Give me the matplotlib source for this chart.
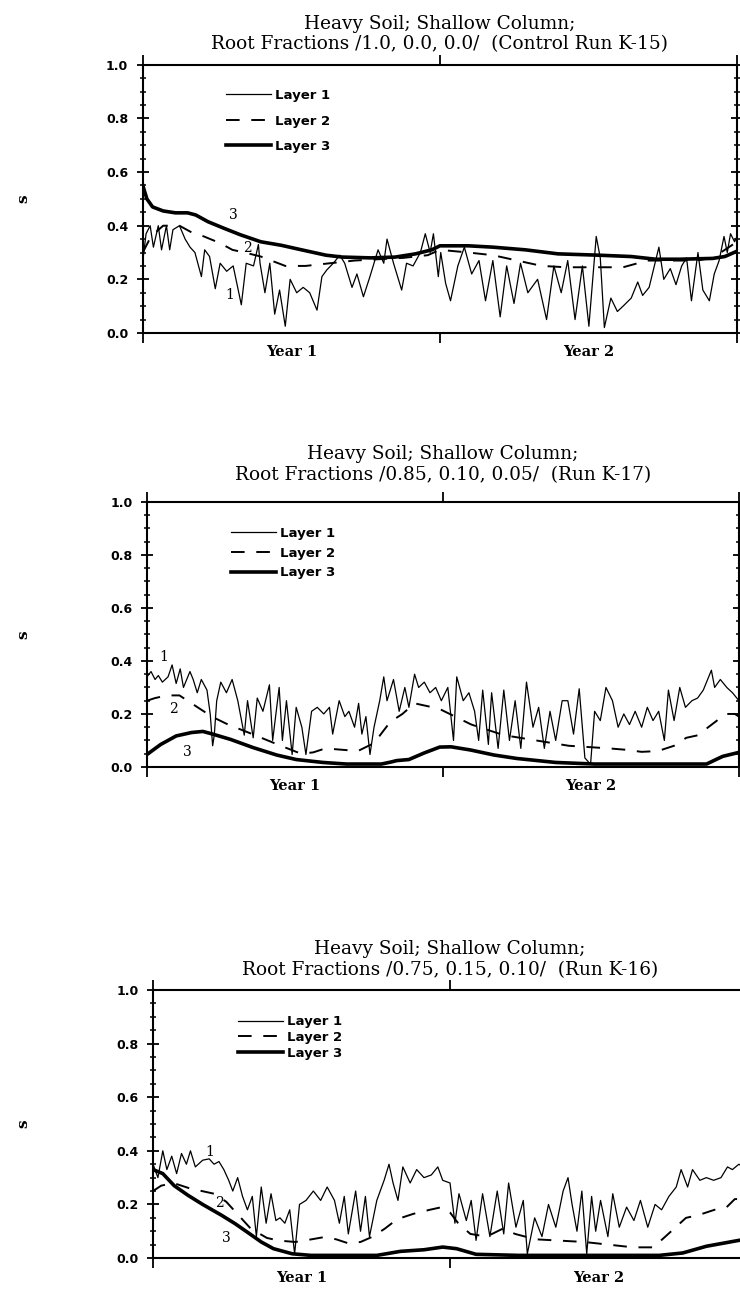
import numpy as np
import matplotlib
matplotlib.use("Agg")
import matplotlib.pyplot as plt

# ---- Run K-15 (control) ----
k15_l1_day = [0, 4, 9, 13, 19, 23, 29, 33, 37, 45, 52, 58, 64, 72, 76, 82, 89, 95, 103, 111,
              121, 127, 136, 142, 144, 150, 156, 162, 168, 175, 181, 189, 197, 205, 214, 220,
              226, 234, 242, 248, 257, 263, 271, 279, 289, 296, 300, 308, 318, 324, 332, 341,
              347, 353, 357, 363, 366, 372, 378, 387, 395, 404, 413, 421, 430, 439, 447, 456,
              464, 473, 485, 496, 505, 514, 522, 531, 540, 548, 557, 562, 567, 575, 583, 590,
              600, 608, 614, 622, 630, 634, 640, 648, 655, 662, 668, 674, 682, 688, 696, 702,
              708, 714, 718, 722, 727, 730]
k15_l1 = [0.27, 0.37, 0.40, 0.32, 0.40, 0.31, 0.40, 0.31, 0.385, 0.40, 0.35, 0.32, 0.30, 0.21,
          0.31, 0.285, 0.165, 0.26, 0.23, 0.25, 0.105, 0.26, 0.25, 0.33, 0.26, 0.15, 0.26, 0.07,
          0.16, 0.025, 0.20, 0.15, 0.17, 0.15, 0.085, 0.21, 0.235, 0.26, 0.29, 0.26, 0.17, 0.22,
          0.135, 0.21, 0.31, 0.26, 0.35, 0.26, 0.16, 0.26, 0.25, 0.30, 0.37, 0.30, 0.37, 0.21,
          0.30, 0.185, 0.12, 0.25, 0.32, 0.22, 0.27, 0.12, 0.27, 0.06, 0.25, 0.11, 0.26, 0.15,
          0.20, 0.05, 0.25, 0.15, 0.27, 0.05, 0.25, 0.025, 0.36, 0.28, 0.02, 0.13, 0.08, 0.10,
          0.13, 0.19, 0.14, 0.17, 0.27, 0.32, 0.20, 0.24, 0.18, 0.25, 0.28, 0.12, 0.30, 0.16,
          0.12, 0.22, 0.27, 0.36, 0.30, 0.37, 0.34, 0.36]
k15_l2_day = [0, 10, 25, 45, 60, 75, 95, 110, 125, 145, 175, 200, 230, 260, 290, 320, 350, 365,
              400, 430, 460, 490, 520, 560, 590, 620, 650, 680, 700, 715, 730]
k15_l2 = [0.30, 0.36, 0.40, 0.40, 0.375, 0.36, 0.335, 0.31, 0.30, 0.285, 0.25, 0.25, 0.26, 0.27,
          0.275, 0.28, 0.29, 0.31, 0.30, 0.29, 0.27, 0.25, 0.245, 0.245, 0.245, 0.27, 0.27, 0.27,
          0.28, 0.31, 0.34]
k15_l3_day = [0, 5, 12, 25, 40, 55, 65, 80, 100, 120, 145, 170, 195, 225, 245, 280, 310, 335,
              355, 365, 400, 430, 470, 510, 560, 600, 630, 660, 700, 715, 730]
k15_l3 = [0.55, 0.50, 0.47, 0.455, 0.448, 0.448, 0.44, 0.415, 0.39, 0.366, 0.34, 0.327, 0.31,
          0.29, 0.283, 0.28, 0.283, 0.295, 0.31, 0.325, 0.325, 0.32, 0.31, 0.295, 0.29, 0.285,
          0.275, 0.275, 0.278, 0.285, 0.305]

# ---- Run K-17 ----
k17_l1_day = [0, 5, 10, 14, 19, 26, 31, 36, 41, 45, 53, 57, 62, 67, 74, 78, 81, 83, 86, 91, 98,
              105, 112, 120, 124, 131, 136, 143, 151, 155, 163, 167, 172, 179, 184, 191, 196,
              203, 210, 218, 225, 229, 237, 244, 249, 256, 261, 265, 270, 275, 280, 287, 292,
              296, 304, 311, 318, 323, 330, 335, 342, 349, 356, 363, 371, 378, 382, 390, 397,
              404, 409, 414, 421, 425, 433, 440, 447, 454, 461, 468, 476, 483, 490, 497, 504,
              512, 519, 526, 533, 540, 547, 552, 559, 566, 574, 581, 588, 595, 602, 610, 617,
              624, 631, 638, 643, 650, 657, 664, 672, 679, 686, 696, 700, 707, 715, 722, 730]
k17_l1 = [0.34, 0.36, 0.33, 0.345, 0.32, 0.34, 0.385, 0.315, 0.37, 0.30, 0.36, 0.33, 0.28, 0.33,
          0.29, 0.20, 0.08, 0.12, 0.25, 0.32, 0.28, 0.33, 0.25, 0.12, 0.25, 0.11, 0.26, 0.21,
          0.31, 0.10, 0.30, 0.10, 0.25, 0.047, 0.225, 0.15, 0.047, 0.21, 0.225, 0.20, 0.225,
          0.124, 0.25, 0.19, 0.21, 0.15, 0.24, 0.124, 0.19, 0.047, 0.15, 0.25, 0.34, 0.25, 0.33,
          0.21, 0.30, 0.225, 0.35, 0.30, 0.32, 0.28, 0.30, 0.25, 0.30, 0.10, 0.34, 0.25, 0.28,
          0.21, 0.10, 0.29, 0.085, 0.28, 0.07, 0.29, 0.10, 0.25, 0.07, 0.32, 0.15, 0.225, 0.07,
          0.21, 0.10, 0.25, 0.25, 0.124, 0.295, 0.034, 0.01, 0.21, 0.175, 0.30, 0.25, 0.15, 0.20,
          0.16, 0.21, 0.15, 0.225, 0.175, 0.21, 0.10, 0.29, 0.175, 0.30, 0.225, 0.25, 0.26, 0.29,
          0.365, 0.30, 0.33, 0.30, 0.28, 0.25]
k17_l2_day = [0, 10, 25, 40, 60, 80, 100, 125, 145, 165, 190, 205, 220, 240, 260, 280, 300, 315,
              330, 345, 360, 380, 400, 420, 440, 460, 480, 500, 520, 545, 570, 590, 610, 630, 650,
              665, 680, 690, 705, 715, 725, 730]
k17_l2 = [0.25, 0.26, 0.27, 0.27, 0.23, 0.19, 0.16, 0.13, 0.105, 0.08, 0.05, 0.055, 0.07, 0.065,
          0.06, 0.09, 0.17, 0.20, 0.24, 0.23, 0.22, 0.19, 0.16, 0.14, 0.12, 0.11, 0.10, 0.09,
          0.08, 0.075, 0.07, 0.065, 0.057, 0.06, 0.08, 0.11, 0.12, 0.145, 0.18, 0.20, 0.20, 0.19]
k17_l3_day = [0, 17, 36, 55, 69, 81, 103, 131, 160, 184, 217, 246, 289, 300, 308, 323, 342, 361,
              375, 399, 428, 456, 504, 552, 690, 710, 730]
k17_l3 = [0.047, 0.085, 0.117, 0.13, 0.134, 0.124, 0.104, 0.073, 0.045, 0.028, 0.017, 0.011,
          0.011, 0.018, 0.024, 0.028, 0.053, 0.075, 0.076, 0.064, 0.045, 0.032, 0.017, 0.011,
          0.011, 0.04, 0.055]

# ---- Run K-16 ----
k16_l1_day = [0, 6, 12, 17, 23, 29, 35, 41, 46, 52, 61, 69, 75, 81, 87, 93, 98, 104, 110, 116,
              122, 127, 133, 139, 145, 151, 156, 162, 168, 174, 180, 188, 197, 206, 214, 223,
              229, 235, 240, 249, 255, 261, 266, 275, 284, 290, 295, 301, 307, 316, 324, 333,
              342, 350, 356, 365, 371, 376, 385, 391, 397, 405, 414, 423, 431, 437, 446, 455,
              460, 469, 478, 486, 495, 504, 510, 515, 521, 527, 533, 539, 544, 550, 559, 565,
              573, 582, 591, 599, 608, 617, 625, 634, 643, 649, 657, 663, 672, 680, 689, 698,
              706, 712, 720, 730]
k16_l1 = [0.35, 0.30, 0.40, 0.33, 0.38, 0.315, 0.39, 0.35, 0.40, 0.34, 0.365, 0.37, 0.35, 0.36,
          0.33, 0.29, 0.25, 0.30, 0.23, 0.18, 0.23, 0.08, 0.265, 0.13, 0.24, 0.14, 0.15, 0.13,
          0.18, 0.016, 0.20, 0.215, 0.25, 0.215, 0.265, 0.215, 0.13, 0.23, 0.09, 0.25, 0.10,
          0.23, 0.08, 0.215, 0.29, 0.35, 0.28, 0.215, 0.34, 0.28, 0.33, 0.30, 0.31, 0.34, 0.29,
          0.28, 0.13, 0.24, 0.14, 0.215, 0.066, 0.24, 0.08, 0.25, 0.09, 0.28, 0.115, 0.215,
          0.016, 0.15, 0.08, 0.20, 0.115, 0.25, 0.30, 0.20, 0.10, 0.25, 0.016, 0.23, 0.10,
          0.215, 0.08, 0.24, 0.115, 0.19, 0.14, 0.215, 0.115, 0.20, 0.18, 0.23, 0.265, 0.33,
          0.265, 0.33, 0.29, 0.30, 0.29, 0.30, 0.34, 0.33, 0.35, 0.33]
k16_l2_day = [0, 10, 25, 45, 60, 75, 90, 105, 120, 140, 155, 175, 195, 210, 225, 240, 255, 270,
              285, 300, 320, 340, 355, 365, 375, 390, 410, 430, 445, 470, 500, 530, 560, 590,
              615, 635, 655, 670, 690, 705, 715, 730]
k16_l2 = [0.25, 0.27, 0.28, 0.26, 0.25, 0.24, 0.21, 0.16, 0.11, 0.075, 0.065, 0.06, 0.07, 0.078,
          0.07, 0.055, 0.06, 0.08, 0.11, 0.145, 0.165, 0.18, 0.19, 0.17, 0.13, 0.09, 0.08, 0.11,
          0.09, 0.07, 0.065, 0.06, 0.05, 0.04, 0.04, 0.095, 0.15, 0.16, 0.18, 0.19, 0.22, 0.22]
k16_l3_day = [0, 12, 26, 43, 61, 84, 101, 119, 133, 148, 171, 194, 275, 304, 333, 356, 373, 397,
              449, 622, 651, 680, 720, 730]
k16_l3 = [0.33, 0.315, 0.27, 0.234, 0.20, 0.16, 0.128, 0.09, 0.06, 0.035, 0.016, 0.01, 0.01,
          0.025, 0.031, 0.041, 0.035, 0.014, 0.01, 0.01, 0.019, 0.044, 0.066, 0.07]

titles = ["Heavy Soil; Shallow Column;\nRoot Fractions /1.0, 0.0, 0.0/  (Control Run K-15)",
          "Heavy Soil; Shallow Column;\nRoot Fractions /0.85, 0.10, 0.05/  (Run K-17)",
          "Heavy Soil; Shallow Column;\nRoot Fractions /0.75, 0.15, 0.10/  (Run K-16)"]
year_labels = ["Year 1", "Year 2"]
layer_names = ["Layer 1", "Layer 2", "Layer 3"]

serif = "DejaVu Serif"

fig = plt.figure(figsize=(7.4, 12.89), dpi=100)

# left, bottom, width, height; legend anchor; legend row spacing; title pad; curve label spots
panels = [
    dict(pos=[0.193, 0.7417, 0.803, 0.208], data=(k15_l1_day, k15_l1, k15_l2_day, k15_l2, k15_l3_day, k15_l3),
         leg=(0.14, 0.91), lsp=0.95, pad=11,
         marks=[(107, 0.142, "1"), (129, 0.317, "2"), (111, 0.44, "3")]),
    dict(pos=[0.1986, 0.405, 0.80, 0.2056], data=(k17_l1_day, k17_l1, k17_l2_day, k17_l2, k17_l3_day, k17_l3),
         leg=(0.142, 0.905), lsp=0.5, pad=16,
         marks=[(21, 0.415, "1"), (33, 0.22, "2"), (50, 0.057, "3")]),
    dict(pos=[0.2068, 0.024, 0.8027, 0.208], data=(k16_l1_day, k16_l1, k16_l2_day, k16_l2, k16_l3_day, k16_l3),
         leg=(0.143, 0.905), lsp=0.2, pad=11,
         marks=[(70, 0.395, "1"), (81, 0.205, "2"), (90, 0.075, "3")]),
]

for i, p in enumerate(panels):
    ax = fig.add_axes(p["pos"])
    d1, v1, d2, v2, d3, v3 = p["data"]
    ax.plot(d1, v1, color="black", lw=0.9, label=layer_names[0])
    ax.plot(d2, v2, color="black", lw=1.4, dashes=(7, 6), label=layer_names[1])
    ax.plot(d3, v3, color="black", lw=2.6, label=layer_names[2])

    ax.set_xlim(0, 730)
    ax.set_ylim(0, 1)
    ax.set_xticks([0, 365, 730])
    ax.set_xticklabels([])
    ax.set_xticks([182.5, 547.5], minor=True)
    ax.set_xticklabels(year_labels, minor=True, fontfamily=serif, fontweight="bold", fontsize=10.5)
    ax.tick_params(axis="x", which="major", direction="out", length=7, width=1.3, top=True)
    ax.tick_params(axis="x", which="minor", length=0, pad=9)

    ax.set_yticks(np.arange(0, 1.01, 0.2))
    ax.set_yticklabels(["%.1f" % t for t in np.arange(0, 1.01, 0.2)], fontweight="bold", fontsize=9)
    ax.set_yticks(np.arange(0, 1.01, 0.05), minor=True)
    ax.tick_params(axis="y", which="major", direction="inout", length=9, width=1.3, right=True, pad=6)
    ax.tick_params(axis="y", which="minor", direction="inout", length=5, width=1.1, right=True)
    for s in ax.spines.values():
        s.set_linewidth(1.5)

    ax.set_title(titles[i], fontfamily=serif, fontsize=13.3, pad=p["pad"], linespacing=1.2)

    for x, y, t in p["marks"]:
        ax.text(x, y, t, fontfamily=serif, fontsize=10, ha="center", va="center")

    leg = ax.legend(loc="upper left", bbox_to_anchor=p["leg"], frameon=False, borderpad=0,
                    borderaxespad=0, handlelength=3.4, handletextpad=0.3,
                    labelspacing=p["lsp"], prop=dict(weight="bold", size=9.5))

    bb = p["pos"]
    fig.text(0.031, bb[1] + bb[3] / 2, "s", rotation=90, fontweight="bold", fontsize=11,
             fontfamily=serif, ha="center", va="center")

fig.savefig("out.png", dpi=100)
